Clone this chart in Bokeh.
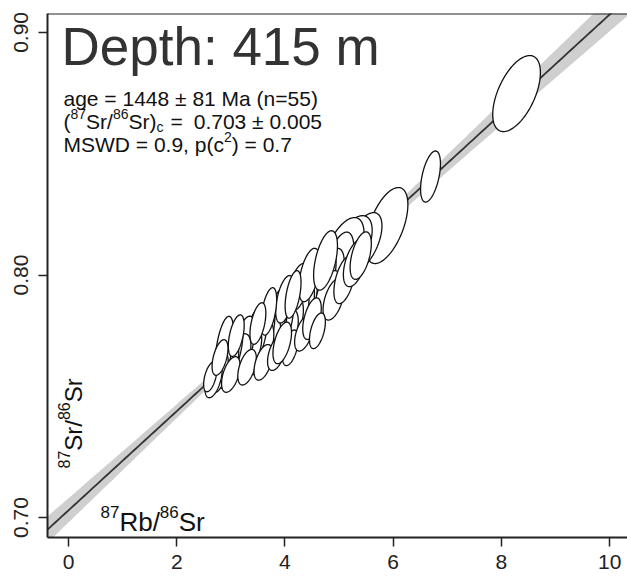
import numpy as np
from bokeh.plotting import figure
from bokeh.models import FixedTicker, NumeralTickFormatter, Label, Span
from bokeh.embed import file_html
from bokeh.resources import INLINE

# ---------------- data ----------------
rb_sr = [8.28, 6.69, 5.88, 5.45, 5.22, 5.07, 4.98, 4.85, 4.70, 4.55, 4.62, 4.80, 4.38, 4.30,
         4.20, 4.12, 4.05, 3.95, 3.85, 3.78, 3.70, 3.62, 3.55, 3.45, 3.35, 3.25, 3.15, 3.05,
         2.95, 2.88, 2.78, 2.68, 2.62, 3.00, 3.30, 3.60, 3.85, 4.10, 4.35, 4.50, 4.90, 5.10,
         5.30, 4.00, 4.25, 4.45, 4.75, 3.70, 3.50, 3.10, 2.80, 3.95, 4.60, 5.40, 4.15]
sr_sr = [0.8748, 0.8406, 0.8204, 0.8135, 0.8110, 0.8090, 0.8030, 0.8000, 0.7990, 0.7960,
         0.7880, 0.7920, 0.7900, 0.7860, 0.7830, 0.7800, 0.7760, 0.7820, 0.7800, 0.7760,
         0.7720, 0.7770, 0.7700, 0.7745, 0.7690, 0.7720, 0.7660, 0.7700, 0.7630, 0.7700,
         0.7600, 0.7570, 0.7580, 0.7590, 0.7620, 0.7640, 0.7680, 0.7700, 0.7760, 0.7820,
         0.7900, 0.7980, 0.8050, 0.7900, 0.7950, 0.8000, 0.8060, 0.7850, 0.7800, 0.7750,
         0.7660, 0.7720, 0.7770, 0.8080, 0.7920]
s_rb_sr = [0.18, 0.075, 0.16, 0.14, 0.16, 0.16, 0.12, 0.10, 0.10, 0.09, 0.10, 0.10, 0.09, 0.10,
           0.10, 0.09, 0.08, 0.09, 0.08, 0.09, 0.09, 0.08, 0.10, 0.09, 0.09, 0.08, 0.09, 0.07,
           0.08, 0.07, 0.07, 0.065, 0.05, 0.07, 0.07, 0.07, 0.07, 0.06, 0.07, 0.07, 0.08, 0.08,
           0.09, 0.07, 0.08, 0.08, 0.09, 0.06, 0.06, 0.06, 0.06, 0.07, 0.06, 0.08, 0.06]
s_sr_sr = [0.0064, 0.0043, 0.0064, 0.0050, 0.0055, 0.0060, 0.0060, 0.0045, 0.0050, 0.0045,
           0.0040, 0.0040, 0.0050, 0.0050, 0.0055, 0.0045, 0.0040, 0.0060, 0.0058, 0.0050,
           0.0045, 0.0055, 0.0045, 0.0050, 0.0040, 0.0045, 0.0040, 0.0045, 0.0040, 0.0053,
           0.0035, 0.0031, 0.0025, 0.0030, 0.0030, 0.0030, 0.0030, 0.0030, 0.0030, 0.0035,
           0.0035, 0.0040, 0.0040, 0.0040, 0.0040, 0.0045, 0.0050, 0.0040, 0.0035, 0.0035,
           0.0030, 0.0035, 0.0030, 0.0040, 0.0040]
rho = [0.55, 0.5, 0.55, 0.55, 0.55, 0.55, 0.55, 0.5, 0.5, 0.5, 0.5, 0.5, 0.5, 0.5,
       0.55, 0.5, 0.5, 0.5, 0.5, 0.5, 0.5, 0.5, 0.5, 0.5, 0.5, 0.5, 0.5, 0.5,
       0.5, 0.5, 0.5, 0.5, 0.5, 0.5, 0.5, 0.5, 0.5, 0.5, 0.5, 0.5, 0.5, 0.5,
       0.5, 0.5, 0.5, 0.5, 0.5, 0.5, 0.5, 0.5, 0.5, 0.5, 0.5, 0.5, 0.5]

age_ma = 1448
age_err = 81
sr0 = 0.703
sr0_err = 0.005
n_pts = 55
mswd = 0.9
p_chi = 0.7
lam_rb = 1.3972e-5      # 87Rb decay constant, 1/Ma
depth_m = 415

x_ticks = [0, 2, 4, 6, 8, 10]
y_ticks = [0.70, 0.80, 0.90]

# ---------------- layout ----------------
W, H = 627, 581
BL, BR, BT, BB = 47, 0, 13, 44
x0, x1 = -0.388, 10.33
y0, y1 = 0.6918, 0.9078
FW, FH = W - BL - BR, H - BT - BB
FONT = "Liberation Sans"

def px2x(px):
    return x0 + (px - BL) / FW * (x1 - x0)

def py2y(py):
    return y1 - (py - BT) / FH * (y1 - y0)

p = figure(width=W, height=H, x_range=(x0, x1), y_range=(y0, y1),
           output_backend="svg", toolbar_location=None,
           min_border_left=BL, min_border_right=BR, min_border_top=BT, min_border_bottom=BB)
p.grid.visible = False
p.outline_line_color = None
p.background_fill_color = "white"
p.border_fill_color = "white"

for ax in (p.xaxis[0], p.yaxis[0]):
    ax.axis_line_width = 2
    ax.axis_line_color = "#222222"
    ax.major_tick_line_color = "#222222"
    ax.major_tick_line_width = 1.5
    ax.major_tick_out = 9
    ax.major_tick_in = 0
    ax.minor_tick_line_color = None
    ax.major_label_text_font = FONT
    ax.major_label_text_font_size = "21px"
    ax.major_label_text_color = "#222222"
p.xaxis.ticker = FixedTicker(ticks=x_ticks)
p.yaxis.ticker = FixedTicker(ticks=y_ticks)
p.yaxis.formatter = NumeralTickFormatter(format="0.00")
p.yaxis.major_label_orientation = "vertical"
p.xaxis.major_label_standoff = 8
p.yaxis.major_label_standoff = 10
p.add_layout(Span(location=y1, dimension="width", line_color="#222222", line_width=2))

# ---------------- isochron + envelope ----------------
slope = np.exp(lam_rb * age_ma) - 1
slope_err = lam_rb * np.exp(lam_rb * age_ma) * age_err
xc = float(np.mean(rb_sr))
a2 = max(sr0_err ** 2 - (slope_err * xc) ** 2, 0.0)
xl = np.linspace(x0 - 0.5, x1 + 0.5, 200)
yl = sr0 + slope * xl
hw = np.sqrt(a2 + (slope_err * (xl - xc)) ** 2)
p.varea(x=xl, y1=yl - hw, y2=yl + hw, fill_color="#cfcfcf", fill_alpha=1.0)
p.line(xl, yl, line_color="#333333", line_width=1.8)

# ---------------- error ellipses ----------------
k = 2.4477  # 95% for 2 dof
t = np.linspace(0, 2 * np.pi, 120)
xs, ys = [], []
for xi, yi, sx, sy, r in zip(rb_sr, sr_sr, s_rb_sr, s_sr_sr, rho):
    xs.append(list(xi + k * sx * np.cos(t)))
    ys.append(list(yi + k * sy * (r * np.cos(t) + np.sqrt(1 - r * r) * np.sin(t))))
p.patches(xs, ys, fill_color="white", line_color="#111111", line_width=1.3)

# ---------------- texts ----------------
WID = {"0": .556, "1": .556, "2": .556, "3": .556, "4": .556, "5": .556, "6": .556,
       "7": .556, "8": .556, "9": .556, "(": .333, ")": .333, "S": .667, "r": .333,
       "/": .278, "R": .722, "b": .556, "c": .5, " ": .278, "=": .584, ".": .278,
       "±": .584, "M": .833, "W": .944, "D": .722, ",": .278, "p": .556}

def tw(s, size):
    return sum(WID.get(ch, .556) for ch in s) * size

def pieces(items, px, py, color="#111111", angle=0.0):
    for item in items:
        txt, size, rise = item[:3]
        gap = item[3] if len(item) > 3 else 0
        if angle == 0.0:
            lab = Label(x=px2x(px), y=py2y(py - rise), text=txt)
            px += tw(txt, size) + gap
        else:
            lab = Label(x=px2x(px - rise), y=py2y(py), text=txt, angle=angle)
            py -= tw(txt, size) + gap
        lab.text_font = FONT
        lab.text_font_size = f"{size}px"
        lab.text_color = color
        lab.text_baseline = "alphabetic"
        lab.text_align = "left"
        p.add_layout(lab)

pieces([(f"Depth: {depth_m} m", 53, 0)], 61, 46, color="#333333")
pieces([(f"age = {age_ma} ± {age_err} Ma (n={n_pts})", 21, 0)], 63, 98)
pieces([("(", 21, 0), ("87", 14, 8), ("Sr/", 21, 0), ("86", 14, 8), ("Sr)", 21, 0),
        ("c", 14, -5, 7), ("=", 21, 0, 11), (f"{sr0:.3f} ± {sr0_err:.3f}", 21, 0)], 63, 121)
pieces([(f"MSWD = {mswd}, p(c", 21, 0), ("2", 14, 8), (f") = {p_chi}", 21, 0)], 63, 144)

pieces([("87", 17, 10), ("Rb/", 26, 0), ("86", 17, 10), ("Sr", 26, 0)], 100, 521)
pieces([("87", 16, 10), ("Sr/", 24, 0), ("86", 16, 10), ("Sr", 24, 0)], 73, 468, angle=np.pi / 2)

open("out.html", "w").write(file_html(p, INLINE))
